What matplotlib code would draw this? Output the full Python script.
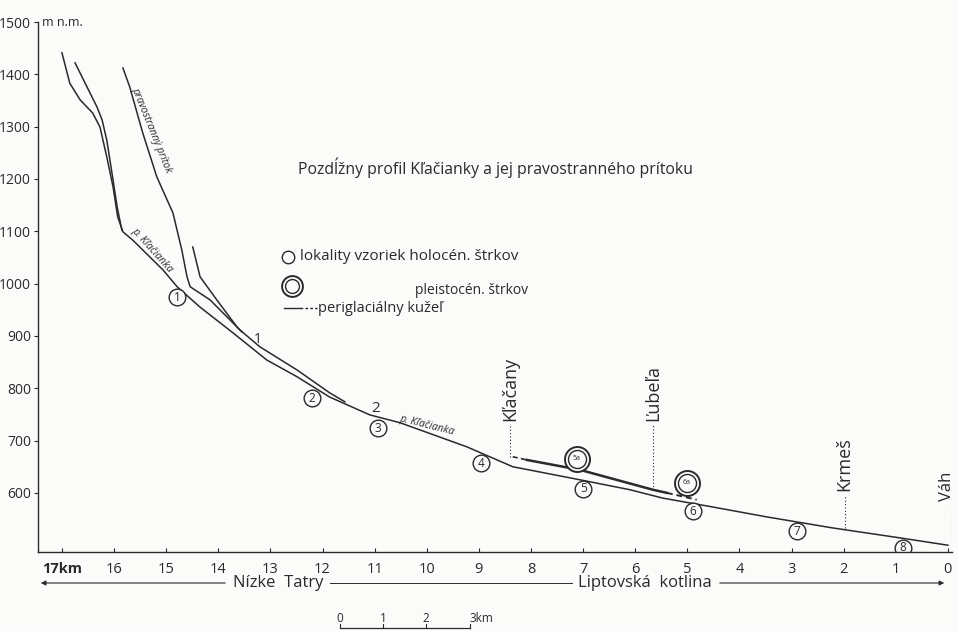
import matplotlib.pyplot as plt
from matplotlib.patches import FancyArrowPatch
from matplotlib.lines import Line2D

plt.rcParams['font.family'] = ['Open Sans', 'DejaVu Sans']

INK = '#2a2a2a'
BG = '#fbfbfa'

# Klacianka main profile: km from mouth, m n.m.
main_km = [17.00, 16.85, 16.65, 16.41, 16.27, 16.14, 16.02, 15.93, 15.83, 15.64,
           15.06, 14.79, 14.35, 13.72, 13.07, 12.49, 11.86, 11.09, 10.51, 9.23,
           8.35, 7.06, 6.10, 5.47, 4.51, 3.47, 2.21, 0.92, 0.00]
main_elev = [1441, 1383, 1351, 1326, 1299, 1242, 1185, 1127, 1099, 1083,
             1026, 994, 955, 906, 854, 822, 783, 749, 734, 688,
             650, 625, 606, 590, 573, 554, 533, 514, 500]

# second headwater branch
branch_km = [16.75, 16.52, 16.33, 16.23, 16.14, 16.04, 15.94, 15.85]
branch_elev = [1422, 1376, 1338, 1313, 1274, 1211, 1146, 1102]

# right-bank tributary
trib_km = [15.83, 15.70, 15.45, 15.18, 14.87, 14.70, 14.60, 14.54, 14.16,
           13.58, 13.20, 12.49, 11.86, 11.57]
trib_elev = [1412, 1376, 1288, 1204, 1135, 1064, 1013, 994, 969,
             911, 879, 835, 791, 774]
trib2_km = [14.49, 14.35, 14.03, 13.64, 13.55]
trib2_elev = [1070, 1013, 969, 917, 908]

# periglacial cone surface
cone_km = [8.08, 7.06, 5.66, 5.39]
cone_elev = [663, 644, 606, 600]
cone_head_km = [8.35, 8.08]
cone_head_elev = [669, 663]
cone_tail_km = [5.39, 4.82]
cone_tail_elev = [600, 587]

# gravel sample sites
hol_km = [14.79, 12.20, 10.94, 8.96, 7.00, 4.89, 2.90, 0.86]
hol_elev = [974, 781, 724, 657, 608, 565, 527, 495]
hol_labels = ['1', '2', '3', '4', '5', '6', '7', '8']
pleist_km = [7.12, 5.01]
pleist_elev = [665, 619]
pleist_labels = ['5a', '6a']

# places
places = ['Kľačany', 'Ľubeľa', 'Krmeš', 'Váh']
place_km = [8.40, 5.66, 1.98, -0.08]
place_top = [730, 730, 596, 577]
place_bottom = [669, 606, 533, 500]
place_text_km = [8.40, 5.66, 1.98, 0.02]

xticks = list(range(17, -1, -1))
xlabels = ['17km'] + [str(k) for k in range(16, -1, -1)]
yticks = list(range(600, 1501, 100))

fig = plt.figure(figsize=(9.58, 6.31), dpi=100, facecolor=BG)
ax = fig.add_axes([38/958, 1-552/631, (952-38)/958, (552-22)/631])
ax.set_facecolor(BG)

lw = 1.1
ax.plot(main_km, main_elev, color=INK, lw=lw)
ax.plot(branch_km, branch_elev, color=INK, lw=lw)
ax.plot(trib_km, trib_elev, color=INK, lw=lw)
ax.plot(trib2_km, trib2_elev, color=INK, lw=lw)
ax.plot(cone_km, cone_elev, color=INK, lw=1.8)
ax.plot(cone_head_km, cone_head_elev, color=INK, lw=1.2, ls=(0, (3, 2)))
ax.plot(cone_tail_km, cone_tail_elev, color=INK, lw=1.4, ls=(0, (3, 2)))

for n, km, tkm, top, bot in zip(places, place_km, place_text_km, place_top, place_bottom):
    ax.plot([km, km], [bot, top], color=INK, lw=0.8, ls=(0, (1, 2)))
    ax.text(tkm, top + 8, n, rotation=90, ha='center', va='bottom',
            fontsize=13 if n != 'Váh' else 12, color=INK, clip_on=False)

ax.plot(hol_km, hol_elev, 'o', ms=12, mfc=BG, mec=INK, mew=1.0, ls='none')
for km, el, lb in zip(hol_km, hol_elev, hol_labels):
    ax.text(km, el, lb, ha='center', va='center', fontsize=8.5, color=INK)
ax.plot(pleist_km, pleist_elev, 'o', ms=18, mfc=BG, mec=INK, mew=1.4, ls='none')
ax.plot(pleist_km, pleist_elev, 'o', ms=13, mfc='none', mec=INK, mew=1.0, ls='none')
for km, el, lb in zip(pleist_km, pleist_elev, pleist_labels):
    ax.text(km, el, lb, ha='center', va='center', fontsize=5, color=INK)

ax.text(13.24, 893, '1', ha='center', va='center', fontsize=10, color=INK)
ax.text(10.99, 762, '2', ha='center', va='center', fontsize=11, color=INK)

ax.text(15.27, 1064, 'p. Kľačianka', rotation=-48, ha='center', va='center',
        fontsize=7.5, style='italic', color=INK)
ax.text(15.29, 1294, 'pravostranný prítok', rotation=-68, ha='center',
        va='center', fontsize=7.5, style='italic', color=INK)
ax.text(10.0, 729, 'p. Kľačianka', rotation=-14, ha='center', va='center',
        fontsize=7.5, style='italic', color=INK)

ax.set_xlim(17.46, -0.08)
ax.set_ylim(487, 1500)
ax.set_xticks(xticks)
ax.set_xticklabels(xlabels)
ax.set_yticks(yticks)
ax.set_yticklabels([str(v) for v in yticks])
ax.tick_params(axis='x', direction='in', length=3, width=0.8, colors=INK,
               labelsize=10.5, pad=7)
ax.tick_params(axis='y', direction='out', length=3, width=0.8, colors=INK,
               labelsize=10, pad=2)
for s in ['top', 'right']:
    ax.spines[s].set_visible(False)
for s in ['left', 'bottom']:
    ax.spines[s].set_color(INK)
    ax.spines[s].set_linewidth(1.0)
ax.get_xticklabels()[0].set_fontweight('bold')

def fx(px):
    return px / 958

def fy(py):
    return 1 - py / 631

fig.text(fx(42), fy(22), 'm n.m.', fontsize=9, color=INK, va='center')

# title and legend
fig.text(fx(495), fy(168), 'Pozdĺžny profil Kľačianky a jej pravostranného prítoku',
         fontsize=11.3, color=INK, ha='center', va='center')
fig.add_artist(Line2D([fx(288)], [fy(257)], marker='o', ms=9, mfc='none',
                      mec=INK, mew=1.0))
fig.text(fx(300), fy(257), 'lokality vzoriek holocén. štrkov', fontsize=11,
         color=INK, va='center')
fig.add_artist(Line2D([fx(292)], [fy(286)], marker='o', ms=15, mfc='none',
                      mec=INK, mew=1.4))
fig.add_artist(Line2D([fx(292)], [fy(286)], marker='o', ms=10, mfc='none',
                      mec=INK, mew=1.0))
fig.text(fx(415), fy(290), 'pleistocén. štrkov', fontsize=10, color=INK,
         va='center')
fig.add_artist(Line2D([fx(284), fx(300)], [fy(308), fy(308)], color=INK, lw=1.0))
fig.add_artist(Line2D([fx(300), fx(317)], [fy(308), fy(308)], color=INK, lw=1.0,
                      ls=(0, (2, 1.5))))
fig.text(fx(318), fy(308), 'periglaciálny kužeľ', fontsize=10.5, color=INK,
         va='center')

# region arrows
ya = fy(583)
fig.add_artist(FancyArrowPatch((fx(228), ya), (fx(38), ya), arrowstyle='-|>',
                               mutation_scale=7, color=INK, lw=0.8))
fig.text(fx(278), ya, 'Nízke  Tatry', fontsize=12, color=INK, ha='center',
         va='center')
fig.add_artist(Line2D([fx(330), fx(572)], [ya, ya], color=INK, lw=0.7))
fig.text(fx(645), ya, 'Liptovská  kotlina', fontsize=12, color=INK,
         ha='center', va='center')
fig.add_artist(FancyArrowPatch((fx(717), ya), (fx(947), ya), arrowstyle='-|>',
                               mutation_scale=7, color=INK, lw=0.8))

# scale bar
yb = fy(628)
fig.add_artist(Line2D([fx(340), fx(470)], [yb, yb], color=INK, lw=0.9))
for px, t in zip([340, 383, 426, 470], ['0', '1', '2', '3km']):
    fig.add_artist(Line2D([fx(px), fx(px)], [yb, yb + 0.006], color=INK, lw=0.8))
    fig.text(fx(px), fy(619), t, fontsize=8.5, color=INK,
             ha='left' if t == '3km' else 'center', va='center')

fig.savefig('out.png', dpi=100, facecolor=BG)
